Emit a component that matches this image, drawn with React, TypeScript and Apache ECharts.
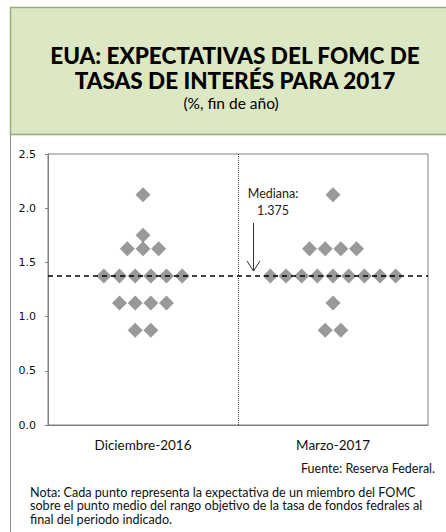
import React, { useEffect, useRef } from "react";
import * as echarts from "echarts";

const categories = ["Diciembre-2016", "Marzo-2017"];
// FOMC participant projections (% end of 2017), one entry per dot
const dec2016 = [2.125, 1.75, 1.625, 1.625, 1.625, 1.375, 1.375, 1.375, 1.375, 1.375, 1.375, 1.125, 1.125, 1.125, 1.125, 0.875, 0.875];
const mar2017 = [2.125, 1.625, 1.625, 1.625, 1.625, 1.375, 1.375, 1.375, 1.375, 1.375, 1.375, 1.375, 1.375, 1.375, 1.125, 0.875, 0.875];
const median = 1.375;

const titleLines = ["EUA: EXPECTATIVAS DEL FOMC DE", "TASAS DE INTERÉS PARA 2017"];
const subtitle = "(%, fin de año)";
const source = "Fuente: Reserva Federal.";
const noteLines = [
  "Nota: Cada punto representa la expectativa de un miembro del FOMC",
  "sobre el punto medio del rango objetivo de la tasa de fondos fedrales al",
  "final del periodo indicado.",
];

const STEP = 0.0825;

function swarm(values: number[], center: number): number[][] {
  const groups: Record<string, number[]> = {};
  values.forEach((v) => {
    const k = String(v);
    (groups[k] = groups[k] || []).push(v);
  });
  const out: number[][] = [];
  Object.keys(groups).forEach((k) => {
    const n = groups[k].length;
    for (let i = 0; i < n; i++) {
      out.push([center + (i - (n - 1) / 2) * STEP, Number(k)]);
    }
  });
  return out;
}

export default function App() {
  const ref = useRef<HTMLDivElement>(null);
  useEffect(() => {
    document.body.style.margin = "0";
    const chart = echarts.init(ref.current!, undefined, { renderer: "svg" });
    const font = "Lato";
    const points = [...swarm(dec2016, 0.5), ...swarm(mar2017, 1.5)];
    chart.setOption({
      animation: false,
      backgroundColor: "#ffffff",
      grid: { left: 48, top: 154, right: 18, bottom: 107, show: true, borderColor: "#808080", borderWidth: 1 },
      xAxis: [
        {
          type: "category",
          data: categories,
          boundaryGap: true,
          axisLine: { lineStyle: { color: "#808080" } },
          axisTick: { show: false },
          axisLabel: { color: "#111", fontFamily: font, fontSize: 13.5, margin: 13 },
          splitLine: { show: false },
        },
        { type: "value", min: 0, max: 2, show: false },
      ],
      yAxis: {
        type: "value",
        min: 0,
        max: 2.5,
        interval: 0.5,
        axisLine: { show: true, lineStyle: { color: "#808080" } },
        axisTick: { show: true, length: 3, lineStyle: { color: "#808080" } },
        axisLabel: { color: "#111", fontFamily: "DejaVu Sans", fontSize: 11, margin: 12, formatter: (v: number) => v.toFixed(1) },
        splitLine: { show: false },
      },
      series: [
        {
          type: "scatter",
          xAxisIndex: 1,
          symbol: "diamond",
          symbolSize: 15,
          itemStyle: { color: "#7f7f7f" },
          data: points,
          z: 3,
          markLine: {
            silent: true,
            symbol: "none",
            label: { show: false },
            data: [
              { yAxis: median, lineStyle: { type: [5, 4], color: "#000", width: 1.5 } },
              { xAxis: 1, lineStyle: { type: [1, 1], color: "#444", width: 1 } },
            ],
          },
        },
      ],
      graphic: [
        { type: "rect", z: -10, shape: { x: 10.5, y: 7.5, width: 460, height: 560 }, style: { fill: "#fff", stroke: "#8c8c8c", lineWidth: 1 } },
        { type: "rect", z: -9, shape: { x: 10.5, y: 7.5, width: 460, height: 127 }, style: { fill: "#dce7c3", stroke: "#97ad78", lineWidth: 1.5 } },
        { type: "text", z: 10, x: 235, y: 55, style: { text: titleLines[0], font: `900 22.5px ${font}`, fill: "#000", align: "center", verticalAlign: "middle" } },
        { type: "text", z: 10, x: 235, y: 80, style: { text: titleLines[1], font: `900 22.5px ${font}`, fill: "#000", align: "center", verticalAlign: "middle" } },
        { type: "text", z: 10, x: 231, y: 103, style: { text: subtitle, font: `15.5px ${font}`, fill: "#000", align: "center", verticalAlign: "middle" } },
        { type: "text", z: 10, x: 273, y: 193, style: { text: "Mediana:", font: `12.5px ${font}`, fill: "#222", align: "center", verticalAlign: "middle" } },
        { type: "text", z: 10, x: 273, y: 210, style: { text: "1.375", font: `12.5px ${font}`, fill: "#222", align: "center", verticalAlign: "middle" } },
        { type: "line", z: 10, shape: { x1: 253.5, y1: 223, x2: 253.5, y2: 271 }, style: { stroke: "#333", lineWidth: 1 } },
        { type: "polyline", z: 10, shape: { points: [[247, 261], [253.5, 271], [260, 261]] }, style: { stroke: "#333", lineWidth: 1, fill: null } },
        { type: "text", z: 10, x: 435, y: 468, style: { text: source, font: `12.5px ${font}`, fill: "#111", align: "right", verticalAlign: "middle" } },
        ...noteLines.map((t, i) => ({ type: "text", z: 10, x: 30, y: 492 + i * 13.5, style: { text: t, font: `12.6px ${font}`, fill: "#111", align: "left", verticalAlign: "middle" } })),
      ],
    });
    return () => chart.dispose();
  }, []);
  return <div ref={ref} style={{ width: 446, height: 532 }} />;
}
